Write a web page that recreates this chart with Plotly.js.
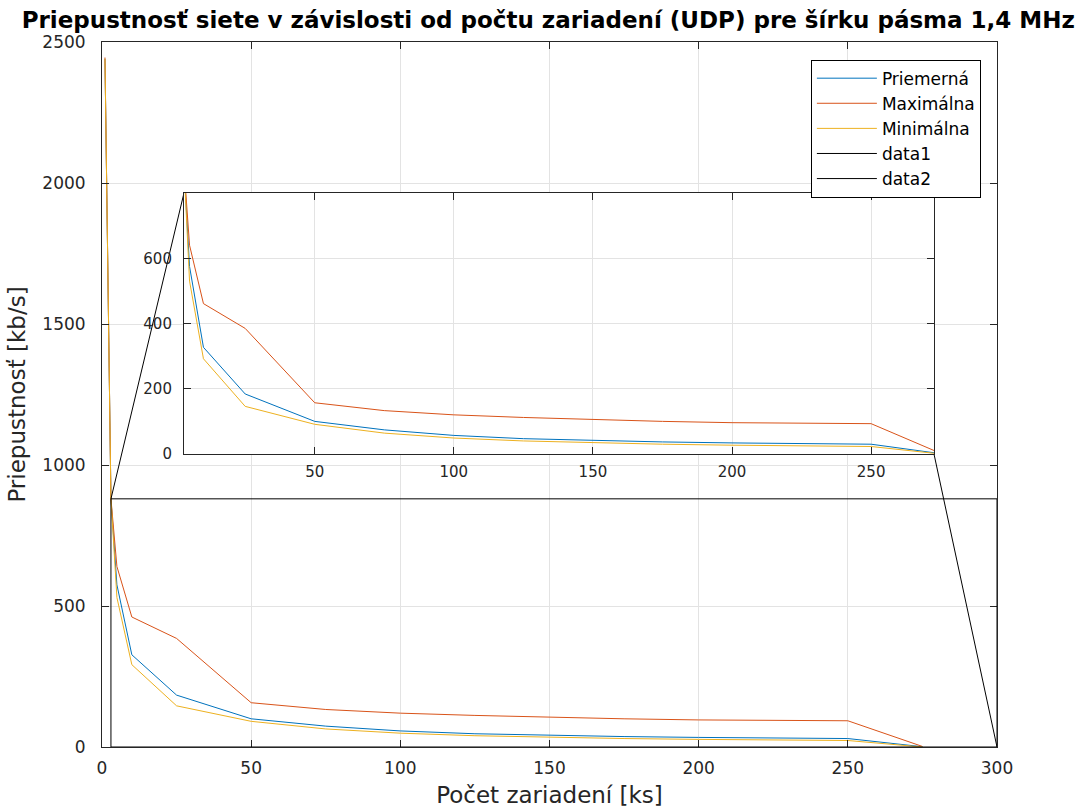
<!DOCTYPE html>
<html>
<head>
<meta charset="utf-8">
<script src="https://cdn.plot.ly/plotly-3.0.1.min.js"></script>
<style>html,body{margin:0;padding:0;background:#fff;}#chart{width:1090px;height:812px;}</style>
</head>
<body>
<div id="chart"></div>
<script>
// ---- data ----
const devices = [1, 3, 5, 10, 25, 50, 75, 100, 125, 150, 175, 200, 225, 250, 275];
const priemerna = [2440, 880, 575, 327, 184, 100, 74, 57, 47, 41, 37, 34, 32, 30, 1];
const maximalna = [2445, 880, 640, 461, 385, 157, 133, 120, 112, 105, 100, 96, 94, 93, 2];
const minimalna = [2440, 880, 530, 292, 146, 91, 64, 49, 40, 34, 30, 27, 25, 23, 0];
const seriesNames = ['Priemerná', 'Maximálna', 'Minimálna'];
const xTicks = [0, 50, 100, 150, 200, 250, 300];
const yTicks = [0, 500, 1000, 1500, 2000, 2500];
const insetXTicks = [50, 100, 150, 200, 250];
const insetYTicks = [0, 200, 400, 600];
const zoomRectX = [3, 300];
const zoomRectY = [0, 880];

// ---- layout constants ----
const mainXRange = [0, 300], mainYRange = [0, 2500];
const insetXRange = [3, 272.6], insetYRange = [0, 800];
const insetXDomain = [0.0916, 0.9296], insetYDomain = [0.4156, 0.7858];
const colors = ['#0072BD', '#D95319', '#EDB120'];
const axisColor = '#262626';
const fontFam = 'DejaVu Sans, sans-serif';

function toMainX(p) { return mainXRange[0] + p * (mainXRange[1] - mainXRange[0]); }
function toMainY(p) { return mainYRange[0] + p * (mainYRange[1] - mainYRange[0]); }

const allY = [priemerna, maximalna, minimalna];
const traces = [];
for (let i = 0; i < 3; i++) {
  traces.push({x: devices, y: allY[i], type: 'scatter', mode: 'lines', name: seriesNames[i],
    line: {color: colors[i], width: 1}, xaxis: 'x', yaxis: 'y'});
}
// connector lines (data1, data2)
traces.push({x: [zoomRectX[0], toMainX(insetXDomain[0])], y: [zoomRectY[1], toMainY(insetYDomain[1])],
  type: 'scatter', mode: 'lines', name: 'data1', line: {color: '#000', width: 1}, xaxis: 'x', yaxis: 'y'});
traces.push({x: [zoomRectX[1], toMainX(insetXDomain[1])], y: [zoomRectY[0], toMainY(insetYDomain[0])],
  type: 'scatter', mode: 'lines', name: 'data2', line: {color: '#000', width: 1}, xaxis: 'x', yaxis: 'y'});
// inset traces
for (let i = 0; i < 3; i++) {
  traces.push({x: devices, y: allY[i], type: 'scatter', mode: 'lines', name: seriesNames[i], showlegend: false,
    line: {color: colors[i], width: 1}, xaxis: 'x2', yaxis: 'y2', cliponaxis: true});
}

const baseAxis = {
  showline: true, linecolor: axisColor, linewidth: 1, mirror: 'ticks', ticks: 'inside', ticklen: 7,
  tickcolor: axisColor, showgrid: true, gridcolor: '#e3e3e3', gridwidth: 1, zeroline: false,
  tickfont: {family: fontFam, size: 17, color: axisColor}
};

const layout = {
  width: 1090, height: 812,
  margin: {l: 102, r: 93, t: 42, b: 65},
  paper_bgcolor: '#fff', plot_bgcolor: '#fff',
  title: {text: '<b>Priepustnosť siete v závislosti od počtu zariadení (UDP) pre šírku pásma 1,4 MHz</b>',
    font: {family: 'DejaVu Sans, sans-serif', size: 23, color: '#000'}, x: 0.503, xanchor: 'center', y: 0.975, yanchor: 'middle'},
  xaxis: Object.assign({}, baseAxis, {range: mainXRange, tickvals: xTicks, ticklabelstandoff: 6,
    title: {text: 'Počet zariadení [ks]', font: {family: fontFam, size: 23, color: axisColor}, standoff: 9}}),
  yaxis: Object.assign({}, baseAxis, {range: mainYRange, tickvals: yTicks, ticklabelstandoff: 12,
    title: {text: 'Priepustnosť [kb/s]', font: {family: fontFam, size: 23, color: axisColor}, standoff: 10}}),
  xaxis2: Object.assign({}, baseAxis, {range: insetXRange, tickvals: insetXTicks, domain: insetXDomain, anchor: 'y2',
    tickfont: {family: fontFam, size: 15, color: axisColor}, ticklabelstandoff: 4}),
  yaxis2: Object.assign({}, baseAxis, {range: insetYRange, tickvals: insetYTicks, domain: insetYDomain, anchor: 'x2',
    tickfont: {family: fontFam, size: 15, color: axisColor}, ticklabelstandoff: 8}),
  shapes: [
    {type: 'rect', xref: 'x2 domain', yref: 'y2 domain', x0: 0, x1: 1, y0: 0, y1: 1,
      fillcolor: '#fff', line: {width: 0}, layer: 'below'},
    {type: 'rect', xref: 'x', yref: 'y', x0: zoomRectX[0], x1: zoomRectX[1], y0: zoomRectY[0], y1: zoomRectY[1],
      line: {color: '#000', width: 1}, fillcolor: 'rgba(0,0,0,0)', layer: 'above'}
  ],
  legend: {x: 0.982, xanchor: 'right', y: 0.975, yanchor: 'top', bgcolor: '#fff', bordercolor: '#000', borderwidth: 1,
    font: {family: fontFam, size: 17, color: '#000'}, tracegroupgap: 0, itemwidth: 60},
  showlegend: true
};

Plotly.newPlot('chart', traces, layout, {displayModeBar: false, staticPlot: true});
</script>
</body>
</html>
